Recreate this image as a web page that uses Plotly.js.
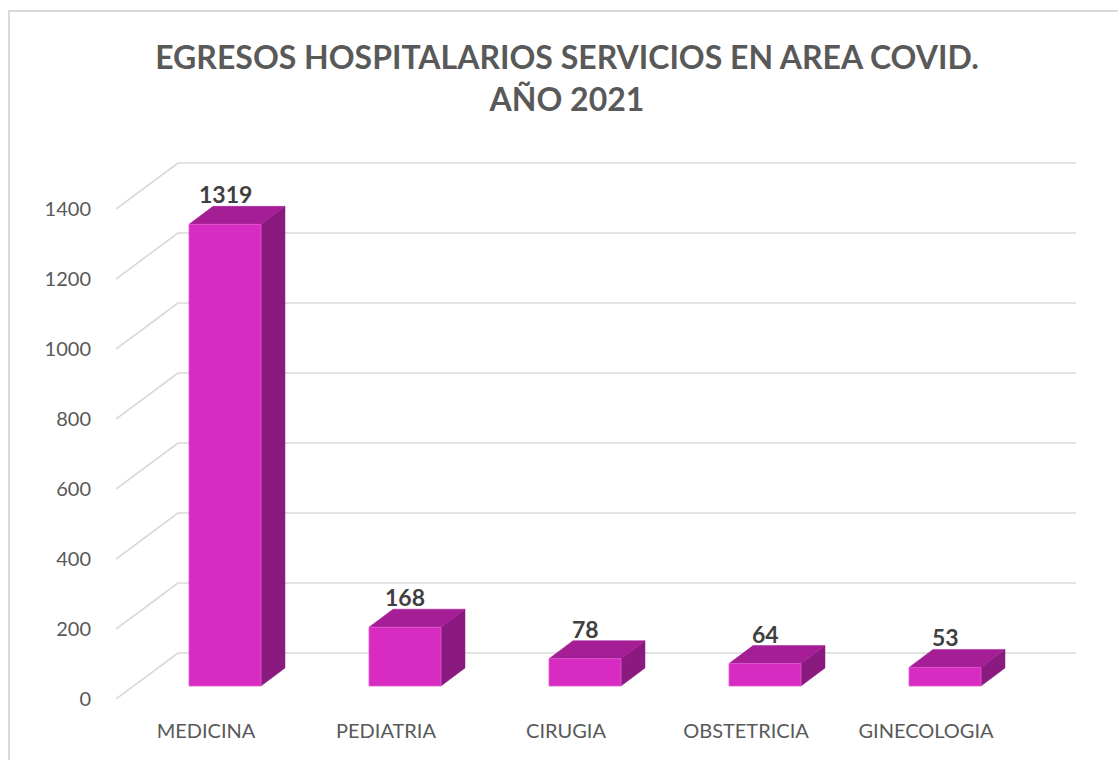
<!DOCTYPE html>
<html>
<head>
<meta charset="utf-8">
<script src="https://cdn.plot.ly/plotly-3.0.1.min.js"></script>
<style>
  html, body { margin: 0; padding: 0; background: #fff; }
  #wrap { position: relative; width: 1118px; height: 760px; overflow: hidden; }
  #chart { position: absolute; left: 0; top: 0; width: 1118px; height: 760px; }
  #frame { position: absolute; left: 8px; top: 10px; width: 1200px; height: 800px;
           border-left: 2px solid #d9d9d9; border-top: 2px solid #d9d9d9; pointer-events: none; }
</style>
</head>
<body>
<div id="wrap"><div id="chart"></div><div id="frame"></div></div>
<script>
// ---- data ----
const categories = ['MEDICINA', 'PEDIATRIA', 'CIRUGIA', 'OBSTETRICIA', 'GINECOLOGIA'];
const egresos = [1319, 168, 78, 64, 53];
const yTicks = [0, 200, 400, 600, 800, 1000, 1200, 1400];
const titleText = 'EGRESOS HOSPITALARIOS SERVICIOS EN AREA COVID.<br>AÑO 2021';

// ---- styling / pseudo-3D geometry (in axis units) ----
const pxPerCat = 180, pxPerUnit = 0.35;
const plotLeft = 116, plotRight = 1076, plotBottom = 699, plotTop = 140;
const xMax = (plotRight - plotLeft) / pxPerCat;
const yMax = (plotBottom - plotTop) / pxPerUnit;
const wallDX = 62 / pxPerCat, wallDY = 46 / pxPerUnit;    // back wall offset
const barDX = 19 / pxPerCat, barDY = 13 / pxPerUnit;      // bar front-plane offset
const barW = 72 / pxPerCat;                                // bar width
const depDX = 24 / pxPerCat, depDY = 18 / pxPerUnit;      // bar depth
const cFront = '#D72BC1', cTop = '#A51E95', cSide = '#8B1A80';
const gridColor = '#d9d9d9';

// gridlines (side wall diagonals + back wall horizontals)
const gx = [], gy = [];
yTicks.forEach(t => {
  gx.push(0, wallDX, xMax, null);
  gy.push(t, t + wallDY, t + wallDY, null);
});

const fx = [], fy = [], tx = [], ty = [], sx = [], sy = [];
const labX = [], labY = [];
egresos.forEach((v, i) => {
  const x0 = i + 0.5 + barDX - barW / 2, x1 = x0 + barW;
  const y0 = barDY, y1 = barDY + v;
  fx.push(x0, x1, x1, x0, x0, null); fy.push(y0, y0, y1, y1, y0, null);
  tx.push(x0, x1, x1 + depDX, x0 + depDX, x0, null);
  ty.push(y1, y1, y1 + depDY, y1 + depDY, y1, null);
  sx.push(x1, x1 + depDX, x1 + depDX, x1, x1, null);
  sy.push(y0, y0 + depDY, y1 + depDY, y1, y0, null);
  labX.push(i + 0.5 + barDX);
  labY.push(y1 + depDY);
});

const traces = [
  { type: 'scatter', mode: 'lines', x: gx, y: gy, line: { color: gridColor, width: 1.6 },
    hoverinfo: 'skip', showlegend: false, cliponaxis: false },
  { type: 'scatter', mode: 'lines', x: sx, y: sy, fill: 'toself', fillcolor: cSide,
    line: { color: cSide, width: 0.5 }, hoverinfo: 'skip', showlegend: false },
  { type: 'scatter', mode: 'lines', x: tx, y: ty, fill: 'toself', fillcolor: cTop,
    line: { color: cTop, width: 0.5 }, hoverinfo: 'skip', showlegend: false },
  { type: 'scatter', mode: 'lines', x: fx, y: fy, fill: 'toself', fillcolor: cFront,
    line: { color: '#E05BD0', width: 0.8 }, hoverinfo: 'skip', showlegend: false }
];

const annotations = egresos.map((v, i) => ({
  x: labX[i], y: labY[i], xref: 'x', yref: 'y', text: String(v), showarrow: false,
  yanchor: 'bottom', yshift: -4, font: { family: 'Lato, sans-serif', size: 23, color: '#404040', weight: 'bold' }
}));

const layout = {
  width: 1118, height: 760,
  paper_bgcolor: '#fff', plot_bgcolor: 'rgba(0,0,0,0)',
  margin: { l: plotLeft, r: 1118 - plotRight, t: plotTop, b: 760 - plotBottom, pad: 0 },
  title: { text: titleText, x: 567 / 1118, xanchor: 'center', y: 1 - 69 / 760, yanchor: 'top',
           yref: 'container', font: { family: 'Lato, sans-serif', size: 32, color: '#595959', weight: 'bold' } },
  xaxis: { range: [0, xMax], tickmode: 'array', tickvals: categories.map((c, i) => i + 0.5),
           ticktext: categories, showgrid: false, zeroline: false, showline: false,
           ticks: 'outside', ticklen: 14, tickcolor: 'rgba(0,0,0,0)', fixedrange: true,
           tickfont: { family: 'Lato, sans-serif', size: 20, color: '#595959' } },
  yaxis: { range: [0, yMax], tickmode: 'array', tickvals: yTicks, ticktext: yTicks.map(String),
           showgrid: false, zeroline: false, showline: false,
           ticks: 'outside', ticklen: 20, tickcolor: 'rgba(0,0,0,0)', fixedrange: true,
           tickfont: { family: 'Lato, sans-serif', size: 20, color: '#595959' } },
  annotations: annotations,
  showlegend: false
};

Plotly.newPlot('chart', traces, layout, { displayModeBar: false, staticPlot: true });
</script>
</body>
</html>
